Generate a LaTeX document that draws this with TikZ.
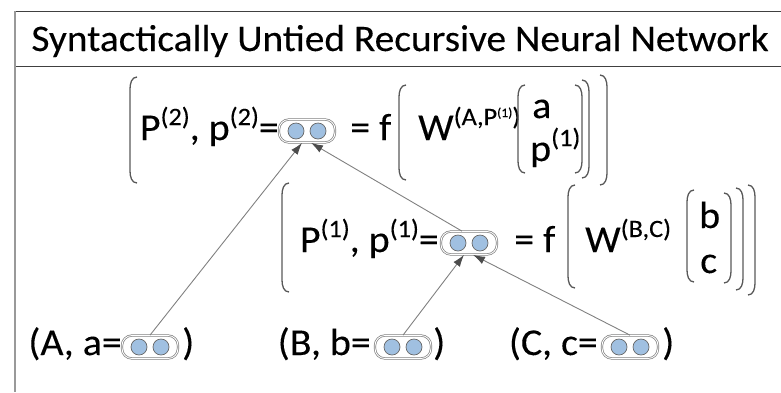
\documentclass[tikz,border=0pt]{standalone}
\usepackage{fontspec}
\setmainfont{Carlito}[FakeStretch=1.05,FakeBold=0.2]
\usetikzlibrary{calc}
\usetikzlibrary{arrows.meta}
\definecolor{unitblue}{RGB}{160,192,225}
\newcommand*\up[1]{\raisebox{15pt}{\fontsize{25}{25}\selectfont #1}}
\newcommand*\upup[1]{\raisebox{8pt}{\fontsize{13}{13}\selectfont #1}}
\newcommand{\openbr}[3]{\draw[brk] (#1+7,#2) to[out=180,in=90] (#1,#2+12) -- (#1,#3-12) to[out=-90,in=180] (#1+7,#3);}
\newcommand{\closebr}[3]{\draw[brk] (#1-7,#2) to[out=0,in=90] (#1,#2+12) -- (#1,#3-12) to[out=-90,in=0] (#1-7,#3);}

\begin{document}
\begin{tikzpicture}[x=1pt,y=-1pt,
	txt/.style={font=\fontsize{38}{42}\selectfont, inner sep=0pt, anchor=base west},
	vecbox/.style={
		draw=gray, double=white, double distance=0.9pt, line width=0.7pt,
		rounded corners=10pt,
		minimum width=56pt,
		minimum height=23pt,
		inner sep=0pt,
	},
	unit/.style={circle, draw=black!60, fill=unitblue, line width=0.7pt, minimum size=16pt, inner sep=0pt},
	brk/.style={draw=black!65, line width=1.3pt},
	link/.style={draw=gray, line width=0.9pt, -{Latex[length=12pt,width=8pt,color=black!70]}},
	]
	\useasboundingbox (0,0) rectangle (781,392);
	% frame and title
	\draw[black!75, line width=0.9pt] (15,11) -- (781,11);
	\draw[black!75, line width=0.9pt] (15,66) -- (781,66);
	\draw[gray!80, line width=1.6pt] (15,11) -- (15,392);
	\node[txt, font=\fontsize{37.5}{42}\selectfont, anchor=base] (title) at (400,51) {Syntactically Untied Recursive Neural Network};

	% p^(2)
	\openbr{130}{77}{183}
	\node[vecbox] (p2) at (307,131) {};
	\node[txt, anchor=base east] (lhs2) at (279,140) {P\up{(2)}, p\up{(2)}=};
	\node[txt] (f2) at (350,140) {= f};
	\openbr{399}{85}{180}
	\node[txt] (w2) at (418,140) {W\up{(A,P\upup{(1)})}};
	\openbr{518}{85}{173}
	\node[txt] (va) at (532,118) {a};
	\node[txt] (vp) at (530,161) {p\up{(1)}};
	\closebr{582}{85}{173}
	\closebr{589}{80}{178}
	\closebr{607}{75}{185}

	% p^(1)
	\openbr{282}{183}{292}
	\node[vecbox] (p1) at (469,243) {};
	\node[txt, anchor=base east] (lhs1) at (439,252) {P\up{(1)}, p\up{(1)}=};
	\node[txt] (f1) at (514,252) {= f};
	\openbr{568}{185}{288}
	\node[txt] (w1) at (585,252) {W\up{(B,C)}};
	\openbr{687}{190}{282}
	\node[txt] (vb) at (699,228) {b};
	\node[txt] (vc) at (700,273) {c};
	\closebr{731}{193}{283}
	\closebr{743}{188}{290}
	\closebr{755}{185}{295}

	% leaves
	\node[vecbox] (a) at (150,347) {};
	\node[txt, anchor=base east] (la) at (122,355) {(A, a=};
	\node[txt] (ra) at (182,355) {)};
	\node[vecbox] (b) at (403,347) {};
	\node[txt, anchor=base east] (lb) at (371,355) {(B, b=};
	\node[txt] (rb) at (433,355) {)};
	\node[vecbox] (c) at (630,347) {};
	\node[txt, anchor=base east] (lc) at (598,355) {(C, c=};
	\node[txt] (rc) at (662,355) {)};

	\foreach \n in {a,b,c,p1,p2}{
		\node[unit] (\n-l) at ($(\n)+(-11,0)$) {};
		\node[unit] (\n-r) at ($(\n)+(11,0)$) {};
	}

	\draw[link] (a.north) -- ($(p2.south)+(-5,0)$);
	\draw[link] ($(p1.north)+(-7,0)$) -- ($(p2.south)+(4,0)$);
	\draw[link] (b.north) -- ($(p1.south)+(-5,0)$);
	\draw[link] (c.north) -- ($(p1.south)+(4,0)$);
\end{tikzpicture}
\end{document}
